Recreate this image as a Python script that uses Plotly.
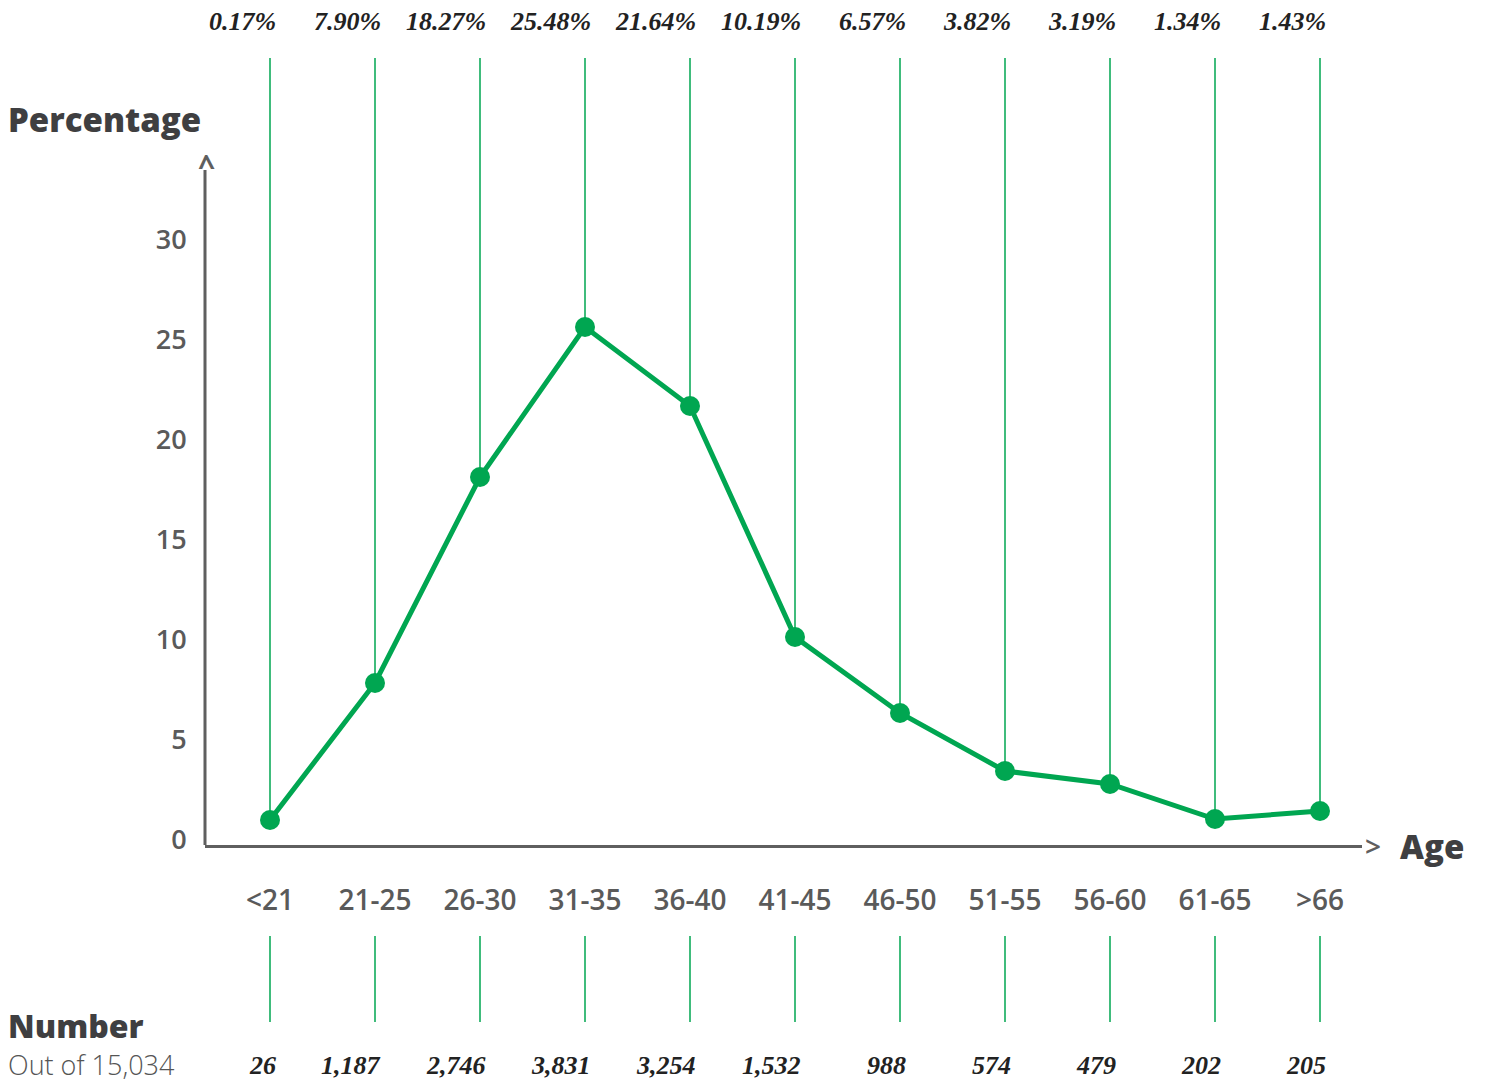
import plotly.graph_objects as go

categories = ["<21", "21-25", "26-30", "31-35", "36-40", "41-45", "46-50", "51-55", "56-60", "61-65", ">66"]
plotted_pct = [1.0, 7.85, 18.15, 25.65, 21.7, 10.15, 6.35, 3.45, 2.8, 1.05, 1.45]
pct_labels = ["0.17%", "7.90%", "18.27%", "25.48%", "21.64%", "10.19%", "6.57%", "3.82%", "3.19%", "1.34%", "1.43%"]
count_labels = ["26", "1,187", "2,746", "3,831", "3,254", "1,532", "988", "574", "479", "202", "205"]
y_ticks = [0, 5, 10, 15, 20, 25, 30]

GREEN = "#00A651"
GRAY = "#5f5f5f"
DARK = "#3f3f41"
SANS = "Open Sans"
W, H = 1485, 1083
L, R, T, B = 205, 123, 58, 238
plot_h = H - T - B
plot_w = W - L - R
Y_MIN = -0.25
Y_MAX = Y_MIN + plot_h / 20.0

def py(px):
    return (H - B - px) / plot_h

def pxx(px):
    return (px - L) / plot_w

fig = go.Figure()

vx, vy = [], []
for c, v in zip(categories, plotted_pct):
    vx += [c, c, None]
    vy += [v, Y_MAX, None]
fig.add_trace(go.Scatter(x=vx, y=vy, mode="lines", line=dict(color=GREEN, width=1.5),
                         hoverinfo="skip", showlegend=False))

fig.add_trace(go.Scatter(x=categories, y=plotted_pct, mode="lines+markers",
                         line=dict(color=GREEN, width=5),
                         marker=dict(color=GREEN, size=20),
                         showlegend=False, cliponaxis=False))

shapes = [dict(type="line", xref="paper", yref="paper", x0=0, x1=0, y0=0, y1=py(170),
               line=dict(color=GRAY, width=3))]
for c in categories:
    shapes.append(dict(type="line", xref="x", yref="paper", x0=c, x1=c, y0=py(936), y1=py(1022),
                       line=dict(color=GREEN, width=1.5)))

serif = dict(family="Liberation Serif", size=26, color="#222222", weight="bold", style="italic")
annotations = []
for c, t in zip(categories, pct_labels):
    annotations.append(dict(x=c, xref="x", y=py(22), yref="paper", text=t, showarrow=False,
                            xanchor="right", yanchor="middle", xshift=8, font=serif))
for c, t in zip(categories, count_labels):
    annotations.append(dict(x=c, xref="x", y=py(1065), yref="paper", text=t, showarrow=False,
                            xanchor="right", yanchor="middle", xshift=8, font=serif))

annotations += [
    dict(x=pxx(6), xref="paper", y=py(120), yref="paper", text="Percentage", showarrow=False,
         xanchor="left", yanchor="middle", font=dict(family=SANS, size=33, color=DARK, weight=800)),
    dict(x=pxx(6), xref="paper", y=py(1025), yref="paper", text="Number", showarrow=False,
         xanchor="left", yanchor="middle", font=dict(family=SANS, size=32, color=DARK, weight=800)),
    dict(x=pxx(6), xref="paper", y=py(1064), yref="paper", text="Out of 15,034", showarrow=False,
         xanchor="left", yanchor="middle", font=dict(family=SANS, size=27, color="#555555", weight=300)),
    dict(x=pxx(1398), xref="paper", y=py(846), yref="paper", text="Age", showarrow=False,
         xanchor="left", yanchor="middle", font=dict(family=SANS, size=33, color=DARK, weight=800)),
    dict(x=pxx(1363), xref="paper", y=py(846), yref="paper", text=">", showarrow=False,
         xanchor="left", yanchor="middle", font=dict(family=SANS, size=28, color=GRAY, weight=600)),
    dict(x=0.0, xref="paper", y=py(165), yref="paper", text="^", showarrow=False,
         xanchor="center", yanchor="middle", xshift=1, font=dict(family=SANS, size=30, color=GRAY, weight=700)),
]

fig.update_layout(
    width=W, height=H,
    margin=dict(l=L, r=R, t=T, b=B, pad=0),
    plot_bgcolor="white", paper_bgcolor="white",
    shapes=shapes, annotations=annotations,
    xaxis=dict(type="category", categoryorder="array", categoryarray=categories,
               range=[-0.619, 10.4], showgrid=False, zeroline=False,
               showline=True, linecolor=GRAY, linewidth=3,
               ticks="outside", ticklen=28, tickcolor="rgba(0,0,0,0)",
               tickfont=dict(family=SANS, size=28, color="#5a5a5a", weight=600)),
    yaxis=dict(range=[Y_MIN, Y_MAX], showgrid=False, zeroline=False, showline=False,
               tickvals=y_ticks, ticktext=[str(v) for v in y_ticks],
               ticks="outside", ticklen=12, tickcolor="rgba(0,0,0,0)",
               tickfont=dict(family=SANS, size=27, color="#5a5a5a", weight=600)),
    font=dict(family=SANS),
)

fig.write_html("out.html", config={"displayModeBar": False},
               post_script="document.body.style.margin='0';document.body.style.overflow='hidden';")
